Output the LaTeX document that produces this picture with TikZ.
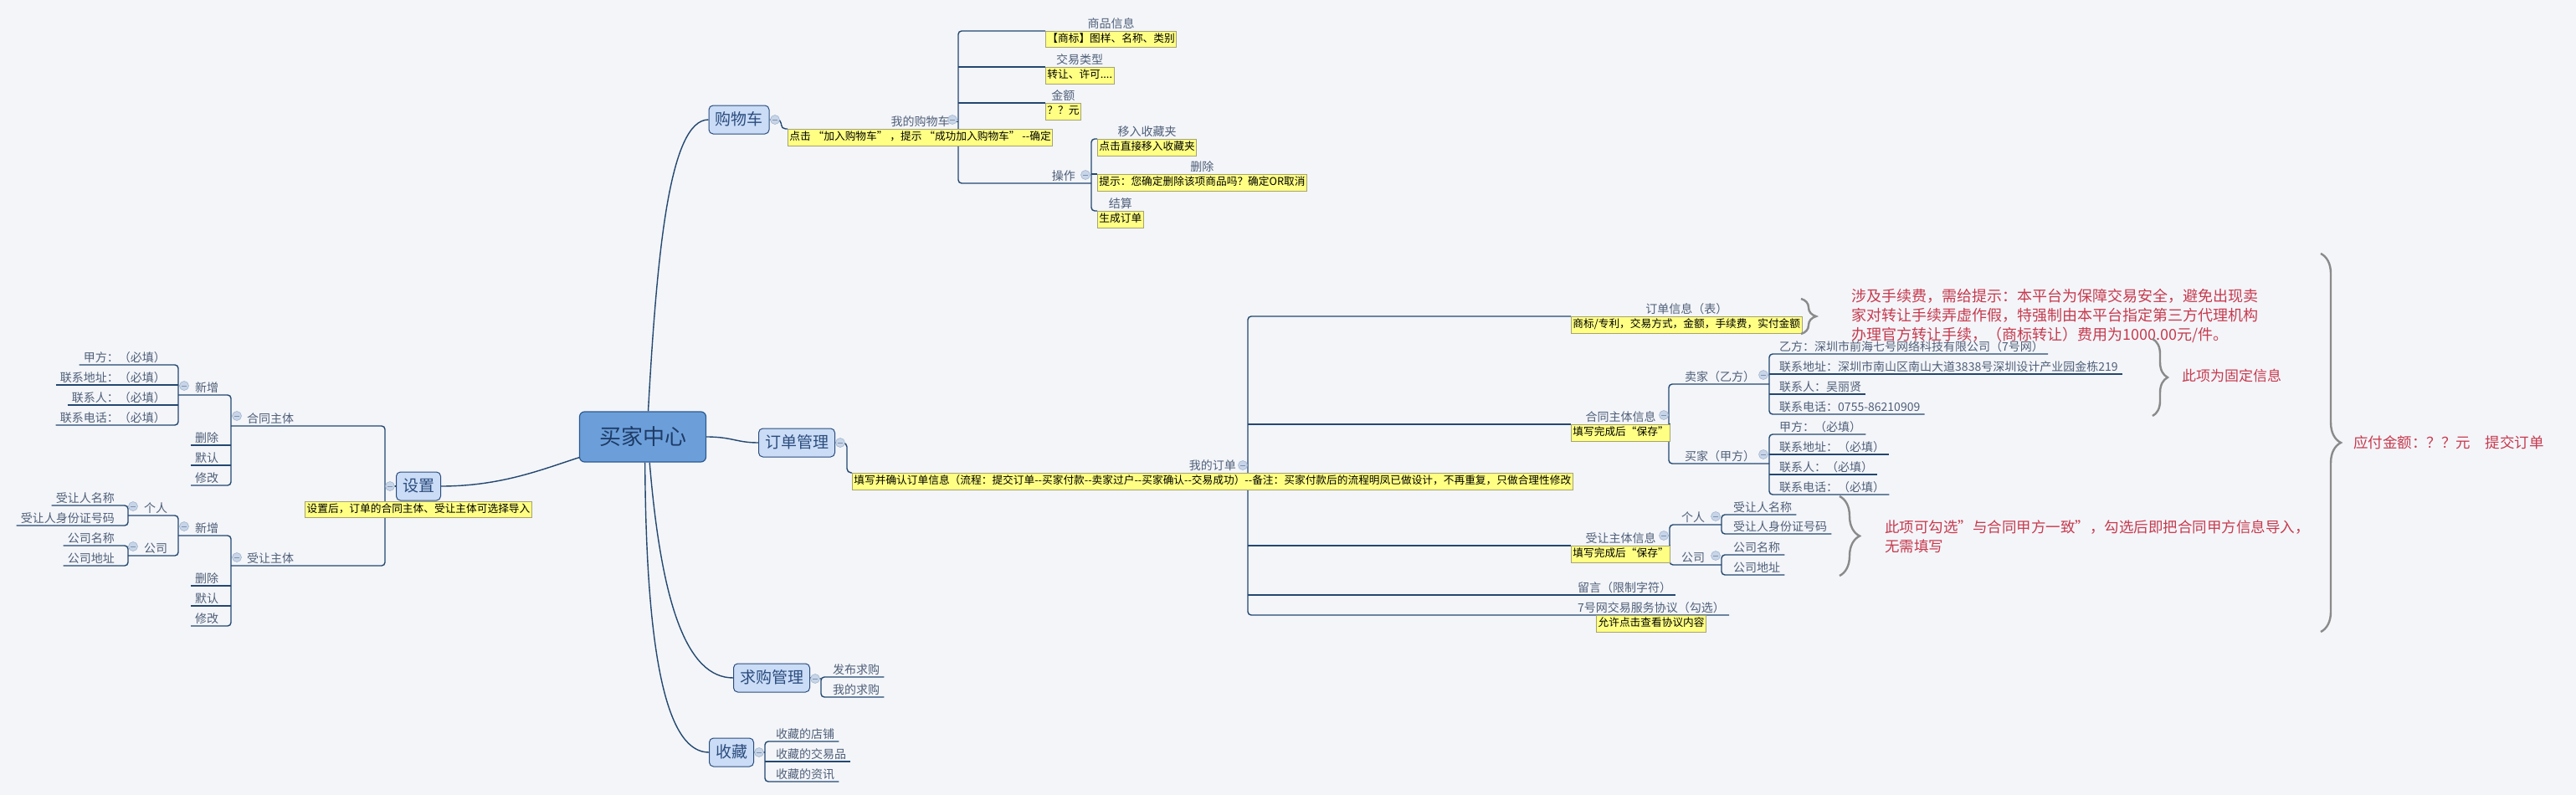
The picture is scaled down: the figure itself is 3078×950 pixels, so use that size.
\documentclass[tikz,border=0pt]{standalone}
\usepackage{fontspec}
\setmainfont{Noto Sans CJK SC}
\usetikzlibrary{positioning}
\usetikzlibrary{decorations.pathreplacing}
\pgfdeclarelayer{back}
\pgfdeclarelayer{wires}
\pgfsetlayers{back,wires,main}
\definecolor{bgc}{HTML}{F3F5F9}
\definecolor{rootf}{HTML}{6C9FDA}
\definecolor{rootb}{HTML}{2C5A8F}
\definecolor{roott}{HTML}{1E3B66}
\definecolor{topf}{HTML}{CADCF6}
\definecolor{topb}{HTML}{2B4C7D}
\definecolor{topt}{HTML}{2B4C7D}
\definecolor{linec}{HTML}{23476F}
\definecolor{lblc}{HTML}{4F5F78}
\definecolor{notef}{HTML}{FFFF84}
\definecolor{noteb}{HTML}{A7A36E}
\definecolor{redc}{HTML}{C73A4E}
\definecolor{bracec}{HTML}{8A8A8A}
\definecolor{foldf}{HTML}{C8D5E8}
\definecolor{foldb}{HTML}{A3B6CF}
\definecolor{foldm}{HTML}{7F93B0}
\tikzset{
  root/.style = {draw=rootb, fill=rootf, rounded corners=6, line width=1.2,
                 text=roott, font=\fontsize{26}{26}\selectfont,
                 minimum width=151, minimum height=60},
  topic/.style = {draw=topb, fill=topf, rounded corners=5, line width=1,
                  text=topt, font=\fontsize{19}{19}\selectfont,
                  inner xsep=7.5, inner ysep=8, text height=15, text depth=3},
  lbl/.style = {text=lblc, font=\fontsize{14}{14}\selectfont,
                inner xsep=5, inner ysep=1.5, text height=11.5, text depth=2},
  note/.style = {draw=noteb, fill=notef, line width=0.8, text=black,
                 font=\fontsize{12.7}{12.7}\selectfont,
                 inner xsep=2, inner ysep=3.5, text height=10, text depth=2.5},
  ln/.style = {draw=linec, line width=1.4},
  fold/.style = {circle, draw=foldb, fill=foldf, line width=0.6,
                 minimum size=11, inner sep=0,
                 path picture={\draw[foldm, line width=1]
                   ([xshift=-2.8pt]path picture bounding box.center) --
                   ([xshift=2.8pt]path picture bounding box.center);}},
  rednote/.style = {text=redc, align=left, anchor=west, inner sep=1},
  gbrace/.style = {draw=bracec, line width=2.4, decorate}
}

\begin{document}
\begin{tikzpicture}[x=1pt, y=-1pt]
  \useasboundingbox (0,0) rectangle (3078,950);
  \begin{pgfonlayer}{back}
    \fill[bgc] (0,0) rectangle (3078,950);
  \end{pgfonlayer}

  % centre and main topics
  \node[root] (root) at (768,522) {买家中心};
  \node[topic] (gwc) at (883,143) {购物车};
  \node[topic] (ddgl) at (952,529) {订单管理};
  \node[topic] (sz) at (500,581) {设置};
  \node[topic] (qggl) at (922,810) {求购管理};
  \node[topic] (scang) at (874,899) {收藏};

  \begin{pgfonlayer}{wires}
    \draw[ln] (root.78) .. controls (785,300) and (800,143) .. (gwc.west);
    \draw[ln] (root.east) .. controls (875,522) and (880,529) .. (ddgl.west);
    \draw[ln] (root.198) .. controls (650,560) and (600,581) .. (sz.east);
    \draw[ln] (root.-75) .. controls (790,720) and (820,810) .. (qggl.west);
    \draw[ln] (root.-85) .. controls (772,800) and (800,899) .. (scang.west);
  \end{pgfonlayer}

  % 购物车
  \node[note, anchor=north west] (wdgwcx) at (941,154) {点击 “加入购物车” ，提示 “成功加入购物车” -{}-确定};
  \node[lbl, above=0pt of wdgwcx] (wdgwc) {我的购物车};
  \coordinate (bgwc) at (1145,154);
  \coordinate (bcz) at (1304,219);
  \node[note, anchor=north west] (spxxx) at (1249,37) {【商标】图样、名称、类别};
  \node[lbl, above=0pt of spxxx] (spxx) {商品信息};
  \node[note, anchor=north west] (jylxx) at (1249,80) {转让、许可....};
  \node[lbl, above=0pt of jylxx] (jylx) {交易类型};
  \node[note, anchor=north west] (jex) at (1249,123) {？？元};
  \node[lbl, above=0pt of jex] (je) {金额};
  \node[lbl, anchor=south east] (cz) at (1290,219) {操作};
  \node[note, anchor=north west] (yrx) at (1311,166) {点击直接移入收藏夹};
  \node[lbl, above=0pt of yrx] (yr) {移入收藏夹};
  \node[note, anchor=north west] (shcx) at (1311,208) {提示：您确定删除该项商品吗？确定OR取消};
  \node[lbl, above=0pt of shcx] (shc) {删除};
  \node[note, anchor=north west] (jsx) at (1311,252) {生成订单};
  \node[lbl, above=0pt of jsx] (js) {结算};

  \begin{pgfonlayer}{wires}
    \draw[ln, rounded corners=5] (gwc.east) -- ++(14,0) |- (wdgwcx.north west);
    \draw[ln] (wdgwc.east) -- (wdgwc.east -| bgwc);
    \draw[ln, rounded corners=4] (spxxx.north west) -- (spxxx.north west -| bgwc) -- (bgwc |- bcz) -- (bcz);
    \draw[ln] (jylxx.north west -| bgwc) -- (jylxx.north west);
    \draw[ln] (jex.north west -| bgwc) -- (jex.north west);
    \draw[ln, rounded corners=4] (yrx.north west) -- (yrx.north west -| bcz) -- (jsx.north west -| bcz) -- (jsx.north west);
    \draw[ln] (shcx.north west -| bcz) -- (shcx.north west);
  \end{pgfonlayer}

  % 订单管理
  \node[note, anchor=north west] (wdddx) at (1018,565) {填写并确认订单信息（流程：提交订单-{}-买家付款-{}-卖家过户-{}-买家确认-{}-交易成功）-{}-备注：买家付款后的流程明凤已做设计，不再重复，只做合理性修改};
  \node[lbl, above=0pt of wdddx] (wddd) {我的订单};
  \coordinate (bdd) at (1491,565);
  \node[note, anchor=north west] (ddxxx) at (1877,378) {商标/专利，交易方式，金额，手续费，实付金额};
  \node[lbl, above=0pt of ddxxx] (ddxx) {订单信息（表）};
  \node[note, anchor=north west] (htxx) at (1877,507) {填写完成后“保存”};
  \node[lbl, above=0pt of htxx] (htx) {合同主体信息};
  \node[note, anchor=north west] (srxx) at (1877,652) {填写完成后“保存”};
  \node[lbl, above=0pt of srxx] (srx) {受让主体信息};
  \node[lbl, anchor=south west] (ly) at (1880,711) {留言（限制字符）};
  \node[lbl, anchor=south west] (xy) at (1880,735) {7号网交易服务协议（勾选）};
  \node[note, below=0pt of xy] (xyx) {允许点击查看协议内容};

  \coordinate (bht2) at (1994,507);
  \coordinate (bmj) at (2114,459);
  \coordinate (bbj) at (2114,554);
  \node[lbl, anchor=south west] (mj) at (2008,459) {卖家（乙方）};
  \node[lbl, anchor=south west] (bj) at (2008,554) {买家（甲方）};
  \node[lbl, anchor=south west] (yf) at (2121,423) {乙方：深圳市前海七号网络科技有限公司（7号网）};
  \node[lbl, anchor=south west] (mjdz) at (2121,447) {联系地址：深圳市南山区南山大道3838号深圳设计产业园金栋219};
  \node[lbl, anchor=south west] (mjlxr) at (2121,471) {联系人：吴丽贤};
  \node[lbl, anchor=south west] (mjdh) at (2121,495) {联系电话：0755-86210909};
  \node[lbl, anchor=south west] (jf2) at (2121,519) {甲方：（必填）};
  \node[lbl, anchor=south west] (bjdz) at (2121,543) {联系地址：（必填）};
  \node[lbl, anchor=south west] (bjlxr) at (2121,567) {联系人：（必填）};
  \node[lbl, anchor=south west] (bjdh) at (2121,591) {联系电话：（必填）};

  \coordinate (bsr2) at (1995,652);
  \coordinate (bgr2) at (2057,627);
  \coordinate (bgs2) at (2057,675);
  \node[lbl, anchor=south west] (gr2) at (2004,627) {个人};
  \node[lbl, anchor=south west] (gs2) at (2004,675) {公司};
  \node[lbl, anchor=south west] (srmc2) at (2066,615) {受让人名称};
  \node[lbl, anchor=south west] (srsf2) at (2066,638) {受让人身份证号码};
  \node[lbl, anchor=south west] (gsmc2) at (2066,663) {公司名称};
  \node[lbl, anchor=south west] (gsdz2) at (2066,687) {公司地址};

  \begin{pgfonlayer}{wires}
    \draw[ln, rounded corners=5] (ddgl.east) -- ++(14,0) |- (wdddx.north west);
    \draw[ln] (wddd.east) -- (wddd.east -| bdd);
    \draw[ln, rounded corners=4] (ddxxx.north west) -- (ddxxx.north west -| bdd) -- (xy.south west -| bdd) -- (xy.south east);
    \draw[ln] (htxx.north west -| bdd) -- (htxx.north west);
    \draw[ln] (srxx.north west -| bdd) -- (srxx.north west);
    \draw[ln] (ly.south west -| bdd) -- (ly.south east);

    \draw[ln] (htxx.north east) -- (bht2);
    \draw[ln, rounded corners=4] (bmj) -- (bmj -| bht2) -- (bbj -| bht2) -- (bbj);
    \draw[ln, rounded corners=4] (yf.south east) -- (yf.south west -| bmj) -- (mjdh.south west -| bmj) -- (mjdh.south east);
    \draw[ln] (mjdz.south west -| bmj) -- (mjdz.south east);
    \draw[ln] (mjlxr.south west -| bmj) -- (mjlxr.south east);
    \draw[ln, rounded corners=4] (jf2.south east) -- (jf2.south west -| bbj) -- (bjdh.south west -| bbj) -- (bjdh.south east);
    \draw[ln] (bjdz.south west -| bbj) -- (bjdz.south east);
    \draw[ln] (bjlxr.south west -| bbj) -- (bjlxr.south east);

    \draw[ln] (srxx.north east) -- (bsr2);
    \draw[ln, rounded corners=4] (bgr2) -- (bgr2 -| bsr2) -- (bgs2 -| bsr2) -- (bgs2);
    \draw[ln, rounded corners=4] (srmc2.south east) -- (srmc2.south west -| bgr2) -- (srsf2.south west -| bgr2) -- (srsf2.south east);
    \draw[ln, rounded corners=4] (gsmc2.south east) -- (gsmc2.south west -| bgs2) -- (gsdz2.south west -| bgs2) -- (gsdz2.south east);
  \end{pgfonlayer}

  % 设置
  \node[note, below=0pt of sz] (szx) {设置后，订单的合同主体、受让主体可选择导入};
  \coordinate (bsz) at (460,581);
  \coordinate (bht) at (276,509);
  \coordinate (bsr) at (276,676);
  \coordinate (bxz1) at (213,472);
  \coordinate (bxz2) at (213,640);
  \coordinate (bgr) at (153,616);
  \coordinate (bgs) at (153,664);
  \node[lbl, anchor=south west] (htzt) at (290,509) {合同主体};
  \node[lbl, anchor=south west] (srzt) at (290,676) {受让主体};
  \node[lbl, anchor=south west] (xz1) at (228,472) {新增};
  \node[lbl, anchor=south west] (shc1) at (228,532) {删除};
  \node[lbl, anchor=south west] (mr1) at (228,556) {默认};
  \node[lbl, anchor=south west] (xg1) at (228,580) {修改};
  \node[lbl, anchor=south east] (jf1) at (203,436) {甲方：（必填）};
  \node[lbl, anchor=south east] (htdz1) at (203,460) {联系地址：（必填）};
  \node[lbl, anchor=south east] (htlxr1) at (203,484) {联系人：（必填）};
  \node[lbl, anchor=south east] (htdh1) at (203,508) {联系电话：（必填）};
  \node[lbl, anchor=south west] (xz2) at (228,640) {新增};
  \node[lbl, anchor=south west] (shc2) at (228,700) {删除};
  \node[lbl, anchor=south west] (mr2) at (228,724) {默认};
  \node[lbl, anchor=south west] (xg2) at (228,748) {修改};
  \node[lbl, anchor=south west] (gr1) at (167,616) {个人};
  \node[lbl, anchor=south west] (gs1) at (167,664) {公司};
  \node[lbl, anchor=south east] (srmc1) at (142,604) {受让人名称};
  \node[lbl, anchor=south east] (srsf1) at (142,628) {受让人身份证号码};
  \node[lbl, anchor=south east] (gsmc1) at (142,652) {公司名称};
  \node[lbl, anchor=south east] (gsdz1) at (142,676) {公司地址};

  \begin{pgfonlayer}{wires}
    \draw[ln] (sz.west) -- (bsz);
    \draw[ln, rounded corners=4] (bht) -- (bht -| bsz) -- (bsr -| bsz) -- (bsr);
    \draw[ln, rounded corners=4] (bxz1) -- (bxz1 -| bht) -- (xg1.south west -| bht) -- (xg1.south west);
    \draw[ln] (shc1.south west) -- (shc1.south west -| bht);
    \draw[ln] (mr1.south west) -- (mr1.south west -| bht);
    \draw[ln, rounded corners=4] (jf1.south west) -- (jf1.south west -| bxz1) -- (htdh1.south west -| bxz1) -- (htdh1.south west);
    \draw[ln] (htdz1.south west) -- (htdz1.south west -| bxz1);
    \draw[ln] (htlxr1.south west) -- (htlxr1.south west -| bxz1);
    \draw[ln, rounded corners=4] (bxz2) -- (bxz2 -| bsr) -- (xg2.south west -| bsr) -- (xg2.south west);
    \draw[ln] (shc2.south west) -- (shc2.south west -| bsr);
    \draw[ln] (mr2.south west) -- (mr2.south west -| bsr);
    \draw[ln, rounded corners=4] (bgr) -- (bgr -| bxz2) -- (bgs -| bxz2) -- (bgs);
    \draw[ln, rounded corners=4] (srmc1.south west) -- (srmc1.south west -| bgr) -- (srsf1.south west -| bgr) -- (srsf1.south west);
    \draw[ln, rounded corners=4] (gsmc1.south west) -- (gsmc1.south west -| bgs) -- (gsdz1.south west -| bgs) -- (gsdz1.south west);
  \end{pgfonlayer}

  % 求购管理 and 收藏
  \coordinate (bqg) at (981,811);
  \coordinate (bsc) at (914,899);
  \node[lbl, anchor=south west] (fbqg) at (990,809) {发布求购};
  \node[lbl, anchor=south west] (wdqg) at (990,833) {我的求购};
  \node[lbl, anchor=south west] (scdp) at (922,886) {收藏的店铺};
  \node[lbl, anchor=south west] (scjy) at (922,910) {收藏的交易品};
  \node[lbl, anchor=south west] (sczx) at (922,934) {收藏的资讯};

  \begin{pgfonlayer}{wires}
    \draw[ln] (qggl.east) -- (bqg);
    \draw[ln, rounded corners=4] (fbqg.south east) -- (fbqg.south west -| bqg) -- (wdqg.south west -| bqg) -- (wdqg.south east);
    \draw[ln] (scang.east) -- (bsc);
    \draw[ln, rounded corners=4] (scdp.south east) -- (scdp.south west -| bsc) -- (sczx.south west -| bsc) -- (sczx.south east);
    \draw[ln] (scjy.south west -| bsc) -- (scjy.south east);
  \end{pgfonlayer}

  % fold markers
  \node[fold] (fgwc) at (926,143) {};
  \node[fold] (fwdgwc) at (1138,143) {};
  \node[fold] (fcz) at (1297,209) {};
  \node[fold] (fddgl) at (1004,529) {};
  \node[fold] (fwddd) at (1485,556) {};
  \node[fold] (fhtx) at (1988,496) {};
  \node[fold] (fmj) at (2107,448) {};
  \node[fold] (fbj) at (2107,543) {};
  \node[fold] (fsrx) at (1988,640) {};
  \node[fold] (fgr2) at (2050,617) {};
  \node[fold] (fgs2) at (2050,664) {};
  \node[fold] (fsz) at (466,581) {};
  \node[fold] (fhtzt) at (283,497) {};
  \node[fold] (fxz1) at (220,461) {};
  \node[fold] (fsrzt) at (283,666) {};
  \node[fold] (fxz2) at (220,629) {};
  \node[fold] (fgr1) at (159,605) {};
  \node[fold] (fgs1) at (159,653) {};
  \node[fold] (fqggl) at (974,811) {};
  \node[fold] (fscang) at (907,899) {};

  % remarks
  \draw[gbrace, decoration={brace, amplitude=18}] (2152,357) -- (2152,399);
  \node[rednote, font=\fontsize{18}{23}\selectfont] (sxf) at (2211,377)
    {涉及手续费，需给提示：本平台为保障交易安全，避免出现卖\\家对转让手续弄虚作假，特强制由本平台指定第三方代理机构\\办理官方转让手续，（商标转让）费用为1000.00元/件。};
  \draw[gbrace, decoration={brace, amplitude=18}] (2572,405) -- (2572,497);
  \node[rednote, font=\fontsize{17}{17}\selectfont] (gdxx) at (2606,449) {此项为固定信息};
  \draw[gbrace, decoration={brace, amplitude=24}] (2198,593) -- (2198,688);
  \node[rednote, font=\fontsize{17.5}{23}\selectfont] (gxts) at (2251,641)
    {此项可勾选{\char34}与合同甲方一致{\char34}，勾选后即把合同甲方信息导入，\\无需填写};
  \draw[gbrace, decoration={brace, amplitude=24}] (2773,303) -- (2773,755);
  \node[rednote, font=\fontsize{17.5}{17.5}\selectfont] (yfje) at (2811,529) {应付金额：？？元　提交订单};
\end{tikzpicture}
\end{document}
